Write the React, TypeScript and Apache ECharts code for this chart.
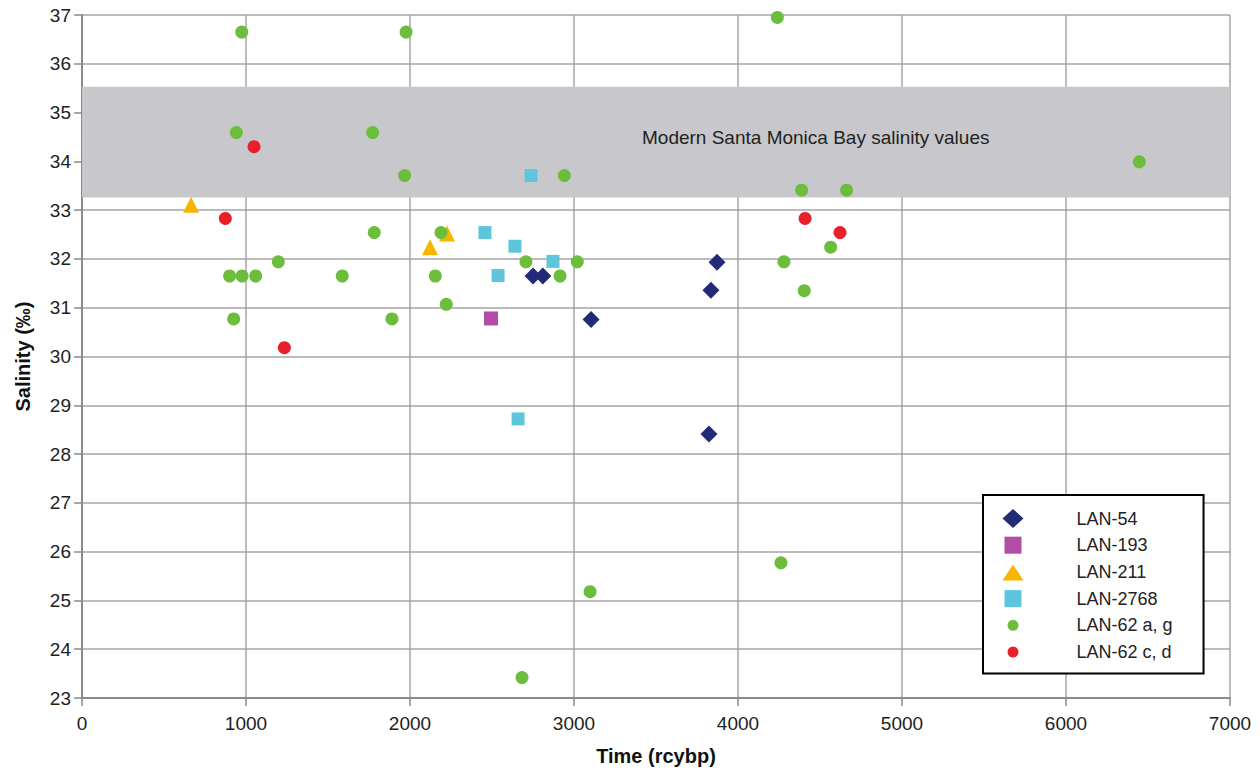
import React, { useEffect, useRef } from "react";
import * as echarts from "echarts";

const xTicks = [0, 1000, 2000, 3000, 4000, 5000, 6000, 7000];
const yRange = [23, 37];

const lan54: [number, number][] = [
  [2750, 31.65], [2810, 31.65], [3872, 31.93], [3835, 31.36], [3104, 30.76], [3823, 28.41],
];
const lan193: [number, number][] = [[2494, 30.78]];
const lan211: [number, number][] = [[665, 33.11], [2122, 32.24], [2226, 32.52]];
const lan2768: [number, number][] = [
  [2738, 33.71], [2457, 32.54], [2640, 32.26], [2872, 31.95], [2537, 31.66], [2659, 28.72],
];
const lan62ag: [number, number][] = [
  [974, 36.65], [1976, 36.65], [941, 34.59], [1772, 34.59], [1967, 33.71], [1782, 32.54],
  [1197, 31.94], [900, 31.65], [976, 31.65], [1059, 31.65], [1587, 31.65], [925, 30.77],
  [1890, 30.77], [4240, 36.95], [2941, 33.71], [2189, 32.54], [2707, 31.94], [3020, 31.94],
  [2154, 31.65], [2915, 31.65], [2221, 31.07], [4388, 33.41], [4280, 31.94], [4404, 31.35],
  [4662, 33.41], [4565, 32.24], [6447, 33.99], [3098, 25.18], [4262, 25.77], [2683, 23.42],
];
const lan62cd: [number, number][] = [
  [1049, 34.3], [874, 32.83], [1234, 30.18], [4409, 32.83], [4622, 32.54],
];
const modernBand: [number, number] = [33.26, 35.53];
const bandLabel = "Modern Santa Monica Bay salinity values";
const seriesNames = ["LAN-54", "LAN-193", "LAN-211", "LAN-2768", "LAN-62 a, g", "LAN-62 c, d"];

// legend icons (21 x 19 box, degenerate moves keep the box size)
const iconDiamond = "path://M10.5 0L21 9.5L10.5 19L0 9.5Z";
const iconSquare = "path://M0 0M21 19M2 1L19 1L19 18L2 18Z";
const iconTriangle = "path://M0 0M21 19M10.5 2L21 18L0 18Z";
const iconCircle = "path://M0 0M21 19M16 9.5A5.5 5.5 0 1 0 5 9.5A5.5 5.5 0 1 0 16 9.5Z";

export default function App() {
  const ref = useRef<HTMLDivElement>(null);
  useEffect(() => {
    if (!ref.current) return;
    const chart = echarts.init(ref.current, undefined, { renderer: "svg" });
    const font = "'Liberation Sans', Arial, Helvetica, sans-serif";
    const mk = (name: string, data: [number, number][], symbol: string, size: number, color: string) => ({
      name,
      type: "scatter",
      data,
      symbol,
      symbolSize: size,
      itemStyle: { color, opacity: 1 },
      z: 3,
    });
    const axisCommon = {
      nameLocation: "middle",
      nameTextStyle: { fontWeight: "bold", fontSize: 20, color: "#111", fontFamily: font },
      axisLine: { show: true, lineStyle: { color: "#8a8a8a", width: 2 } },
      axisTick: { show: true, length: 8, lineStyle: { color: "#8a8a8a", width: 1.5 } },
      splitLine: { show: true, lineStyle: { color: "#a5a5a5", width: 1.5 } },
    };
    chart.setOption({
      animation: false,
      textStyle: { fontFamily: font },
      grid: { left: 82, right: 30, top: 15, bottom: 71 },
      xAxis: {
        type: "value",
        min: xTicks[0],
        max: xTicks[xTicks.length - 1],
        interval: 1000,
        name: "Time (rcybp)",
        nameGap: 48,
        ...axisCommon,
        axisLabel: { fontSize: 19, color: "#222", margin: 16, fontFamily: font, formatter: (v: number) => String(v) },
      },
      yAxis: {
        type: "value",
        min: yRange[0],
        max: yRange[1],
        interval: 1,
        name: "Salinity (‰)",
        nameGap: 49,
        ...axisCommon,
        axisLabel: { fontSize: 19, color: "#222", margin: 11, fontFamily: font },
      },
      legend: {
        orient: "vertical",
        left: 983,
        top: 495,
        backgroundColor: "#fff",
        borderColor: "#000",
        borderWidth: 2,
        borderRadius: 0,
        padding: [14, 31, 12, 19.5],
        itemWidth: 21,
        itemHeight: 19,
        itemGap: 7.7,
        textStyle: { fontSize: 18, color: "#222", padding: [0, 0, 0, 48], fontFamily: font },
        data: [
          { name: seriesNames[0], icon: iconDiamond },
          { name: seriesNames[1], icon: iconSquare },
          { name: seriesNames[2], icon: iconTriangle },
          { name: seriesNames[3], icon: iconSquare },
          { name: seriesNames[4], icon: iconCircle },
          { name: seriesNames[5], icon: iconCircle },
        ],
      },
      series: [
        {
          type: "scatter",
          data: [],
          silent: true,
          markArea: {
            silent: true,
            itemStyle: { color: "#c8c8cc", opacity: 1 },
            label: {
              show: true,
              position: [560, 51],
              color: "#222",
              fontSize: 19,
              fontFamily: font,
              verticalAlign: "middle",
            },
            data: [[{ yAxis: modernBand[1], name: bandLabel }, { yAxis: modernBand[0] }]],
          },
          z: 1,
        },
        mk(seriesNames[0], lan54, "diamond", 17, "#232a78"),
        mk(seriesNames[1], lan193, "rect", 14, "#b24ca6"),
        mk(seriesNames[2], lan211, "triangle", 16, "#f7b500"),
        mk(seriesNames[3], lan2768, "rect", 13, "#5ec6dc"),
        mk(seriesNames[4], lan62ag, "circle", 13, "#6cbd3c"),
        mk(seriesNames[5], lan62cd, "circle", 13, "#e8202a"),
      ],
    });
    return () => chart.dispose();
  }, []);
  return <div ref={ref} style={{ position: "absolute", left: 0, top: 0, width: 1260, height: 771 }} />;
}
